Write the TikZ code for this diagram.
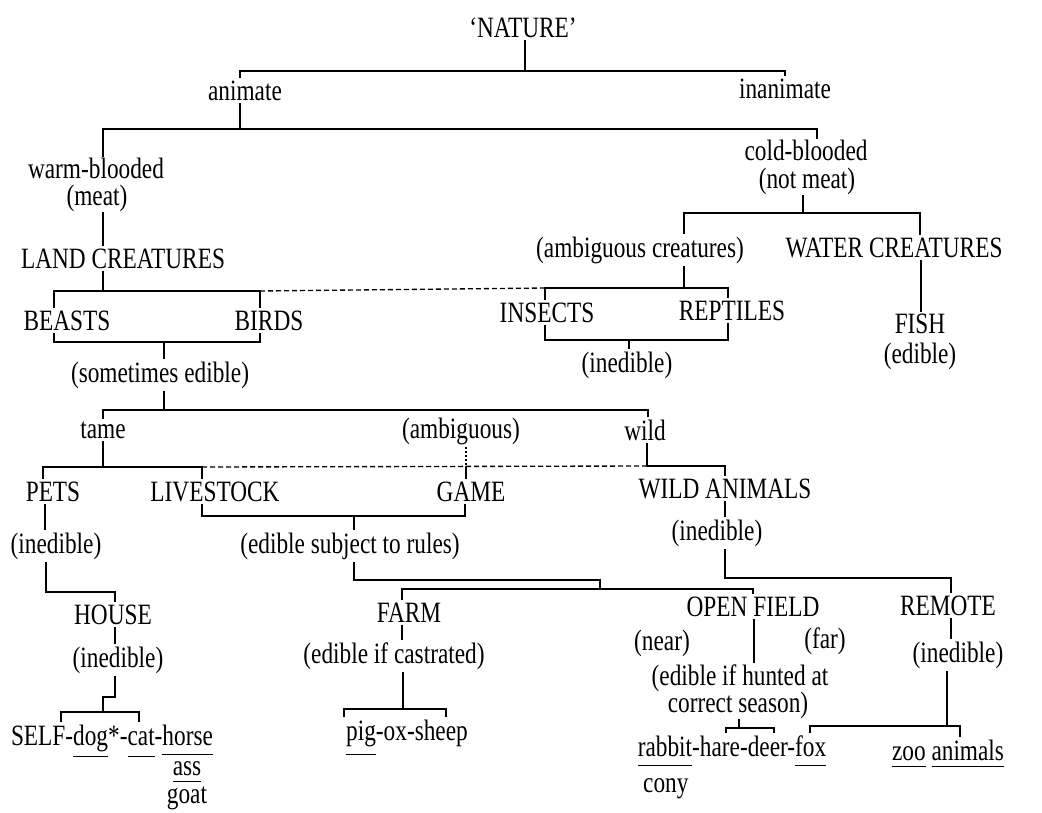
\documentclass[tikz,border=0pt]{standalone}
\usepackage{fontspec}
\setmainfont[FakeStretch=0.79]{Liberation Serif}
\newcommand\myul[2][10]{\setbox0\hbox{#2}\rlap{\rule[-#1pt]{\wd0}{0.9pt}}\box0\relax}
\begin{document}
\begin{tikzpicture}[x=1pt,y=-1pt,
  lbl/.style={anchor=base, inner xsep=0pt, inner ysep=2.5pt, font=\fontsize{29.5}{32}\selectfont},
  tight/.style={inner ysep=0.8pt},
  ln/.style={line width=1.25pt, line join=miter},
  dashln/.style={line width=1.35pt, dash pattern=on 5pt off 3pt},
  dotln/.style={line width=1.4pt, dash pattern=on 1.5pt off 2.5pt}]
\useasboundingbox (0,0) rectangle (1042,812);
\clip (0,0) rectangle (1042,812);
\fill[white] (0,0) rectangle (1042,812);
% ---------- labels ----------
\node[lbl] (nature) at (523,37) {‘NATURE’};
\node[lbl] (animate) at (245,100) {animate};
\node[lbl] (inanimate) at (785,98) {inanimate};
\node[lbl,tight] (warm) at (96,178) {warm-blooded};
\node[lbl,tight] (meat) at (97,205) {(meat)};
\node[lbl,tight] (cold) at (806,160) {cold-blooded};
\node[lbl,tight] (notmeat) at (807,188) {(not meat)};
\node[lbl] (land) at (123,268) {LAND CREATURES};
\node[lbl] (ambcr) at (640,257) {(ambiguous creatures)};
\node[lbl] (water) at (894,257) {WATER CREATURES};
\node[lbl] (beasts) at (67,330) {BEASTS};
\node[lbl] (birds) at (269,330) {BIRDS};
\node[lbl] (insects) at (547,322) {INSECTS};
\node[lbl] (reptiles) at (732,320) {REPTILES};
\node[lbl,tight] (fish) at (920,333) {FISH};
\node[lbl,tight] (edible) at (920,363) {(edible)};
\node[lbl] (inedI) at (627,372) {(inedible)};
\node[lbl] (sometimes) at (160,382) {(sometimes edible)};
\node[lbl] (tame) at (103,438) {tame};
\node[lbl] (ambig) at (461,438) {(ambiguous)};
\node[lbl] (wild) at (645,440) {wild};
\node[lbl] (pets) at (53,501) {PETS};
\node[lbl] (livestock) at (215,501) {LIVESTOCK};
\node[lbl] (game) at (471,501) {GAME};
\node[lbl] (wildan) at (725,498) {WILD ANIMALS};
\node[lbl] (inedP) at (56,553) {(inedible)};
\node[lbl] (rules) at (350,553) {(edible subject to rules)};
\node[lbl] (inedW) at (717,540) {(inedible)};
\node[lbl] (house) at (113,624) {HOUSE};
\node[lbl] (farm) at (409,622) {FARM};
\node[lbl] (openfield) at (753,616) {OPEN FIELD};
\node[lbl] (remote) at (948,615) {REMOTE};
\node[lbl] (near) at (662,650) {(near)};
\node[lbl] (far) at (825,648) {(far)};
\node[lbl] (inedH) at (118,667) {(inedible)};
\node[lbl] (castr) at (394,663) {(edible if castrated)};
\node[lbl,tight] (hunted) at (740,685) {(edible if hunted at};
\node[lbl,tight] (season) at (738,712) {correct season)};
\node[lbl] (inedR) at (958,662) {(inedible)};
\node[lbl] (self) at (112,745) {SELF-\myul[12]{dog}*-\myul[12]{cat}-\myul[10]{horse}};
\node[lbl] (pig) at (407,740) {\myul[15]{pig}-ox-sheep};
\node[lbl] (rabbit) at (732,756) {\myul[10]{rabbit}-hare-deer-\myul[10]{fox}};
\node[lbl] (zoo) at (948,760) {\myul[7]{zoo} \myul[7]{animals}};
\node[lbl,tight] (ass) at (187,775) {\myul[7]{ass}};
\node[lbl,tight] (goat) at (187,803) {goat};
\node[lbl, anchor=base west] (cony) at (643,792) {cony};
% ---------- connectors ----------
\draw[ln] (nature.south -| 525,0) -- (525,71);
\draw[ln] (animate.north -| 240,0) -- (240,71) -- (785,71) -- (inanimate.north -| 785,0);
\draw[ln] (animate.south -| 240,0) -- (240,129);
\draw[ln] (warm.north -| 103,0) -- (103,129) -- (817,129) -- (cold.north -| 817,0);
\draw[ln] (meat.south -| 103,0) -- (land.north -| 103,0);
\draw[ln] (notmeat.south -| 803,0) -- (803,213);
\draw[ln] (ambcr.north -| 684,0) -- (684,213) -- (920,213) -- (water.north -| 920,0);
\draw[ln] (land.south -| 103,0) -- (103,291);
\draw[ln] (beasts.north -| 54,0) -- (54,291) -- (260,291) coordinate (bbtr) -- (birds.north -| 260,0);
\draw[ln] (ambcr.south -| 684,0) -- (684,288);
\draw[ln] (insects.north -| 545,0) -- (545,288) coordinate (irtl) -- (728,288) -- (reptiles.north -| 728,0);
\draw[dashln] (bbtr) -- (irtl);
\draw[ln] (water.south -| 921,0) -- (fish.north -| 921,0);
\draw[ln] (beasts.south -| 54,0) -- (54,342) -- (260,342) -- (birds.south -| 260,0);
\draw[ln] (164,342) -- (sometimes.north -| 164,0);
\draw[ln] (insects.south -| 545,0) -- (545,340) -- (728,340) -- (reptiles.south -| 728,0);
\draw[ln] (629,340) -- (inedI.north -| 629,0);
\draw[ln] (sometimes.south -| 164,0) -- (164,410);
\draw[ln] (tame.north -| 103,0) -- (103,410) -- (648,410) -- (wild.north -| 648,0);
\draw[ln] (tame.south -| 103,0) -- (103,467);
\draw[ln] (pets.north -| 43,0) -- (43,467) -- (202,467) coordinate (lvtl) -- (livestock.north -| 202,0);
\draw[ln] (wild.south -| 647,0) -- (647,466) coordinate (wcor) -- (725,466) -- (wildan.north -| 725,0);
\draw[dashln] (lvtl) -- (wcor);
\draw[dotln] (ambig.south -| 466,0) -- (466,466) coordinate (gtop);
\draw[ln] (gtop) -- (game.north -| 466,0);
\draw[ln] (livestock.south -| 202,0) -- (202,516) -- (465,516) -- (game.south -| 465,0);
\draw[ln] (354,516) -- (rules.north -| 354,0);
\draw[ln] (pets.south -| 45,0) -- (inedP.north -| 45,0);
\draw[ln] (wildan.south -| 725,0) -- (inedW.north -| 725,0);
\draw[ln] (inedP.south -| 46,0) -- (46,592) -- (115,592) -- (house.north -| 115,0);
\draw[ln] (rules.south -| 354,0) -- (354,580) -- (600,580) -- (600,589);
\draw[ln] (farm.north -| 402,0) -- (402,589) -- (753,589) -- (openfield.north -| 753,0);
\draw[ln] (inedW.south -| 725,0) -- (725,578) -- (951,578) -- (remote.north -| 951,0);
\draw[ln] (house.south -| 115,0) -- (inedH.north -| 115,0);
\draw[ln] (inedH.south -| 115,0) -- (115,697) -- (103,697) -- (103,712);
\draw[ln] (self.north -| 61,0) -- (61,712) -- (139,712) -- (self.north -| 139,0);
\draw[ln] (farm.south -| 402,0) -- (castr.north -| 402,0);
\draw[ln] (castr.south -| 403,0) -- (403,709);
\draw[ln] (pig.north -| 344,0) -- (344,709) -- (446,709) -- (pig.north -| 446,0);
\draw[ln] (openfield.south -| 754,0) -- (hunted.north -| 754,0);
\draw[ln] (season.south -| 739,0) -- (739,728);
\draw[ln] (rabbit.north -| 726,0) -- (726,728) -- (774,728) -- (rabbit.north -| 774,0);
\draw[ln] (remote.south -| 951,0) -- (inedR.north -| 951,0);
\draw[ln] (inedR.south -| 947,0) -- (947,726);
\draw[ln] (rabbit.north -| 810,0) -- (810,726) -- (960,726) -- (zoo.north -| 960,0);
\end{tikzpicture}
\end{document}
